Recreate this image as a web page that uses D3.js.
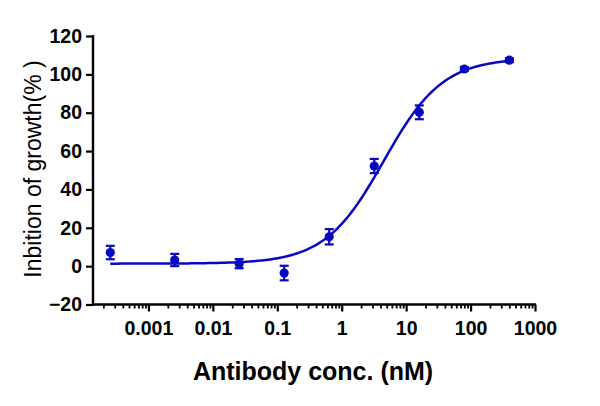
<!DOCTYPE html>
<html>
<head>
<meta charset="utf-8">
<script src="https://cdn.jsdelivr.net/npm/d3@7"></script>
<style>
  body { margin: 0; background: #fff; }
  svg { display: block; }
  text { font-family: "Liberation Sans", Arial, sans-serif; }
</style>
</head>
<body>
<svg id="chart" width="600" height="406"></svg>
<script>
// measured points (conc in nM, mean and SD of % inhibition)
const conc = [0.000256, 0.00256, 0.0256, 0.128, 0.64, 3.2, 16, 80, 400];
const inhibition = [7.1, 3.2, 1.3, -3.6, 15.3, 52.2, 80.2, 102.8, 107.4];
const sd = [3.5, 3.2, 2.4, 3.8, 4.0, 3.7, 3.6, 1.0, 1.0];

// 4PL fit shown by the line
const fitBottom = 1.3, fitTop = 108.5, fitEC50 = 4.5, fitHill = 0.95;

const yTicks = [-20, 0, 20, 40, 60, 80, 100, 120];
const xTicks = [0.001, 0.01, 0.1, 1, 10, 100, 1000];
const xTickLabels = ["0.001", "0.01", "0.1", "1", "10", "100", "1000"];

const blue = "#0808c0";

const svg = d3.select("#chart");

const x = d3.scaleLog()
  .domain([1.38e-4, 1000])
  .range([93, 535]);

const y = d3.scaleLinear()
  .domain([-20, 120])
  .range([304.5, 36]);

// y axis
const yAxis = d3.axisLeft(y)
  .tickValues(yTicks)
  .tickSize(7)
  .tickPadding(4);

const gy = svg.append("g")
  .attr("transform", "translate(93,0)")
  .call(yAxis);
gy.select(".domain").remove();
gy.append("line")
  .attr("x1", 0).attr("x2", 0)
  .attr("y1", y(120) - 1).attr("y2", y(-20) + 1)
  .attr("stroke", "#000").attr("stroke-width", 2.4);
gy.selectAll(".tick line").attr("stroke", "#000").attr("stroke-width", 2.2);
gy.selectAll(".tick text")
  .attr("fill", "#000")
  .style("font-size", "19.5px")
  .style("font-weight", "bold");

// x axis, minor ticks first
const minor = [];
for (let e = -4; e < 3; e++) {
  for (let m = 2; m <= 9; m++) {
    const v = m * Math.pow(10, e);
    if (v >= x.domain()[0]) minor.push(v);
  }
}

const gxMinor = svg.append("g")
  .attr("transform", "translate(0,304.5)")
  .call(d3.axisBottom(x).tickValues(minor).tickSize(4).tickFormat(""));
gxMinor.select(".domain").remove();
gxMinor.selectAll(".tick line").attr("stroke", "#000").attr("stroke-width", 1.8);

const gx = svg.append("g")
  .attr("transform", "translate(0,304.5)")
  .call(d3.axisBottom(x)
    .tickValues(xTicks)
    .tickSize(7)
    .tickPadding(10)
    .tickFormat((d, i) => xTickLabels[i]));
gx.select(".domain").remove();
gx.append("line")
  .attr("x1", 92).attr("x2", x(1000) + 1)
  .attr("y1", 0).attr("y2", 0)
  .attr("stroke", "#000").attr("stroke-width", 2.4);
gx.selectAll(".tick line").attr("stroke", "#000").attr("stroke-width", 2.2);
gx.selectAll(".tick text")
  .attr("fill", "#000")
  .style("font-size", "19.5px")
  .style("font-weight", "bold");

// axis titles
svg.append("text")
  .attr("x", 313)
  .attr("y", 380)
  .attr("text-anchor", "middle")
  .style("font-size", "25px")
  .style("font-weight", "bold")
  .text("Antibody conc. (nM)");

svg.append("text")
  .attr("transform", "translate(41,169) rotate(-90)")
  .attr("text-anchor", "middle")
  .style("font-size", "23px")
  .text("Inbition of growth(% )");

// fitted curve
const fit = c => fitBottom + (fitTop - fitBottom) / (1 + Math.pow(fitEC50 / c, fitHill));
const lo = Math.log10(conc[0]), hi = Math.log10(conc[conc.length - 1]);
const curve = d3.range(0, 201).map(i => {
  const c = Math.pow(10, lo + (hi - lo) * i / 200);
  return [c, fit(c)];
});

svg.append("path")
  .datum(curve)
  .attr("fill", "none")
  .attr("stroke", blue)
  .attr("stroke-width", 2.5)
  .attr("d", d3.line().x(d => x(d[0])).y(d => y(d[1])));

// error bars + markers
const pts = conc.map((c, i) => ({ c, v: inhibition[i], e: sd[i] }));
const eb = svg.append("g").attr("stroke", blue).attr("stroke-width", 2.2);

eb.selectAll(".stem")
  .data(pts)
  .enter().append("line")
  .attr("x1", d => x(d.c)).attr("x2", d => x(d.c))
  .attr("y1", d => y(d.v + d.e)).attr("y2", d => y(d.v - d.e));

eb.selectAll(".capTop")
  .data(pts)
  .enter().append("line")
  .attr("x1", d => x(d.c) - 4.5).attr("x2", d => x(d.c) + 4.5)
  .attr("y1", d => y(d.v + d.e)).attr("y2", d => y(d.v + d.e));

eb.selectAll(".capBot")
  .data(pts)
  .enter().append("line")
  .attr("x1", d => x(d.c) - 4.5).attr("x2", d => x(d.c) + 4.5)
  .attr("y1", d => y(d.v - d.e)).attr("y2", d => y(d.v - d.e));

svg.append("g")
  .selectAll("circle")
  .data(pts)
  .enter().append("circle")
  .attr("cx", d => x(d.c))
  .attr("cy", d => y(d.v))
  .attr("r", 4.6)
  .attr("fill", blue);
</script>
</body>
</html>
